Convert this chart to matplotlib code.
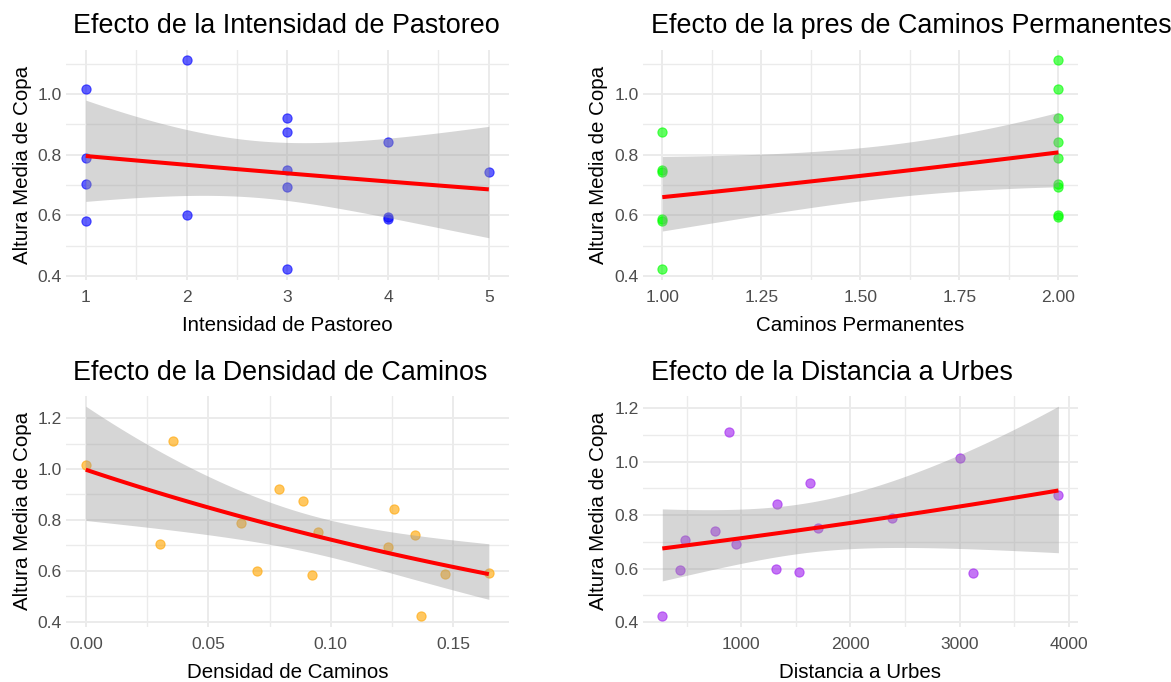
import numpy as np
import matplotlib
matplotlib.use("Agg")
import matplotlib.pyplot as plt
from matplotlib.ticker import MultipleLocator, FormatStrFormatter

plt.rcParams['font.family'] = ['Liberation Sans', 'DejaVu Sans']

# Mean canopy height per site and the four predictors
altura = [1.112, 1.015, 0.921, 0.874, 0.841, 0.789, 0.751, 0.742,
          0.705, 0.693, 0.600, 0.593, 0.588, 0.583, 0.422]
intensidad = [2, 1, 3, 3, 4, 1, 3, 5, 1, 3, 2, 4, 4, 1, 3]
caminos_perm = [2, 2, 2, 1, 2, 2, 1, 1, 2, 2, 2, 2, 1, 1, 1]
densidad = [0.0355, 0.0, 0.0790, 0.0888, 0.1257, 0.0633, 0.0946, 0.1345,
            0.0301, 0.1233, 0.0699, 0.1645, 0.1468, 0.0922, 0.1369]
distancia = [890, 3000, 1632, 3906, 1324, 2378, 1700, 756,
             481, 954, 1315, 435, 1528, 3126, 276]

titulos = ["Efecto de la Intensidad de Pastoreo",
           "Efecto de la pres de Caminos Permanentes",
           "Efecto de la Densidad de Caminos",
           "Efecto de la Distancia a Urbes"]
etiquetas_x = ["Intensidad de Pastoreo", "Caminos Permanentes",
               "Densidad de Caminos", "Distancia a Urbes"]
etiqueta_y = "Altura Media de Copa"
colores = ["#0000FF", "#00FF00", "#FFA500", "#A020F0"]


def ajuste_gamma_log(x, y, n_grid=80, z=1.959964):
    """Gamma GLM with log link (IRLS) and a normal-approx. band on the link scale."""
    x = np.asarray(x, float)
    y = np.asarray(y, float)
    X = np.column_stack([np.ones_like(x), x])
    mu = y.copy()
    eta = np.log(mu)
    for _ in range(200):
        zw = eta + (y - mu) / mu
        beta = np.linalg.lstsq(X, zw, rcond=None)[0]
        eta = X @ beta
        mu = np.exp(eta)
    n, p = X.shape
    phi = np.sum(((y - mu) / mu) ** 2) / (n - p)
    cov = phi * np.linalg.inv(X.T @ X)
    xg = np.linspace(x.min(), x.max(), n_grid)
    Xg = np.column_stack([np.ones_like(xg), xg])
    eg = Xg @ beta
    se = np.sqrt(np.einsum('ij,jk,ik->i', Xg, cov, Xg))
    return xg, np.exp(eg), np.exp(eg - z * se), np.exp(eg + z * se)


W, H = 1171, 682
fig = plt.figure(figsize=(W / 100, H / 100), dpi=100)

# panel boxes in pixels: (left, top, right, bottom)
cajas = [(65.6, 49.6, 509.0, 279.8),
         (642.5, 49.6, 1078.2, 279.8),
         (65.6, 395.7, 509.0, 626.5),
         (642.5, 395.7, 1078.2, 626.5)]
titulo_x = [73, 651, 73, 651]
titulo_base = [33.3, 33.3, 380.0, 380.0]

predictores = [intensidad, caminos_perm, densidad, distancia]
x_major = [1, 0.25, 0.05, 1000]
x_fmt = ["%d", "%.2f", "%.2f", "%d"]
y_major = [0.2, 0.2, 0.2, 0.2]

for i in range(4):
    l, t, r, b = cajas[i]
    ax = fig.add_axes([l / W, 1 - b / H, (r - l) / W, (b - t) / H])
    x = predictores[i]
    ax.scatter(x, altura, s=44, color=colores[i], alpha=0.62,
               edgecolors=colores[i], linewidths=0.8, zorder=2)
    xg, yg, lo, hi = ajuste_gamma_log(x, altura)
    ax.fill_between(xg, lo, hi, color="#999999", alpha=0.4, linewidth=0, zorder=3)
    ax.plot(xg, yg, color="#FF0000", lw=2.9, zorder=4, solid_capstyle="butt")
    ax.margins(0.05)

    ax.xaxis.set_major_locator(MultipleLocator(x_major[i]))
    ax.xaxis.set_minor_locator(MultipleLocator(x_major[i] / 2))
    ax.xaxis.set_major_formatter(FormatStrFormatter(x_fmt[i]))
    ax.yaxis.set_major_locator(MultipleLocator(y_major[i]))
    ax.yaxis.set_minor_locator(MultipleLocator(y_major[i] / 2))
    ax.yaxis.set_major_formatter(FormatStrFormatter("%.1f"))

    ax.grid(which="major", color="#EBEBEB", lw=1.4, zorder=0)
    ax.grid(which="minor", color="#EBEBEB", lw=1.0, zorder=0)
    ax.set_axisbelow(True)
    for s in ax.spines.values():
        s.set_visible(False)
    ax.tick_params(which="both", length=0, labelsize=12.6, labelcolor="#4D4D4D")
    ax.tick_params(axis="x", pad=7.5)
    ax.tick_params(axis="y", pad=2.6)

    ax.set_xlabel(etiquetas_x[i], fontsize=14.8, color="black")
    ax.xaxis.set_label_coords(0.5, -36.0 / (b - t))
    ax.set_ylabel(etiqueta_y, fontsize=14.8, color="black")
    off = 33.6 if i % 2 == 0 else 34.2
    ax.yaxis.set_label_coords(-off / (r - l), 0.5)

    fig.text(titulo_x[i] / W, 1 - titulo_base[i] / H, titulos[i],
             fontsize=19.4, color="black", ha="left", va="baseline")

fig.savefig("out.png", dpi=100, facecolor="white")
